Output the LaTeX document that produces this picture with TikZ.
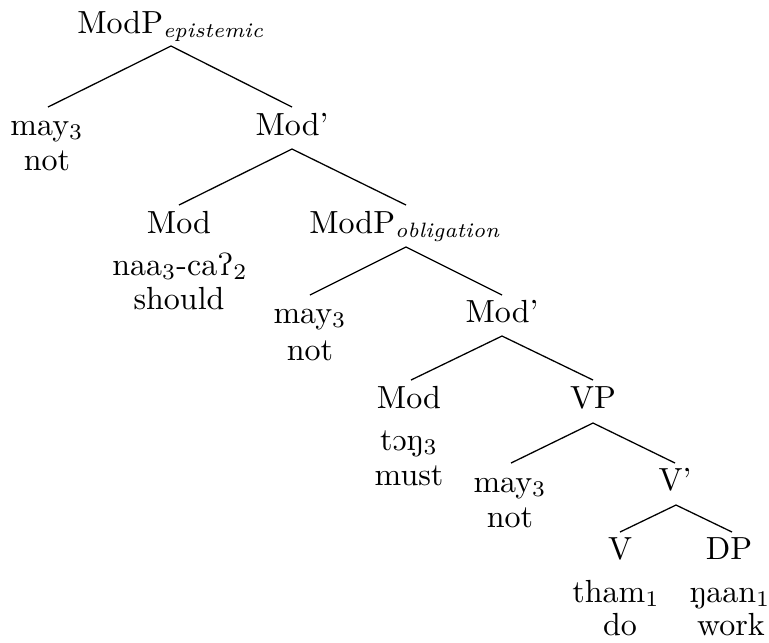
\documentclass[tikz,border=0pt]{standalone}
\usepackage{amsmath}
\usepackage{tipa}
\usetikzlibrary{calc}
\newcommand{\subit}[1]{$_{\text{\fontsize{6.5}{7.5}\selectfont\itshape #1}}$}
\begin{document}
\begin{tikzpicture}[x=0.3125pt,y=-0.3125pt,
  lab/.style={anchor=base,inner sep=0pt,font=\fontsize{10}{11}\selectfont},
  edge/.style={line width=0.4pt}]
\useasboundingbox (0,0) rectangle (769,642);
% level 0
\node[lab] (epi) at (171,33) {ModP\subit{epistemic}};
% level 1
\node[lab] (a1) at (47,135) {may$_3$};
\node[lab] (a2) at (47,170) {not};
\node[lab] (b) at (292,135) {Mod'};
% level 2
\node[lab] (c1) at (179,233) {Mod};
\node[lab] (c2) at (180,275) {naa$_3$-ca\textipa{P}$_2$};
\node[lab] (c3) at (179,309) {should};
\node[lab] (d) at (405,233) {ModP\subit{obligation}};
% level 3
\node[lab] (e1) at (310,323) {may$_3$};
\node[lab] (e2) at (310,360) {not};
\node[lab] (f) at (502,322) {Mod'};
% level 4
\node[lab] (g1) at (409,408) {Mod};
\node[lab] (g2) at (409,450) {\textipa{tON}$_3$};
\node[lab] (g3) at (409,485) {must};
\node[lab] (h) at (593,408) {VP};
% level 5
\node[lab] (i1) at (510,492) {may$_3$};
\node[lab] (i2) at (510,527) {not};
\node[lab] (j) at (675,490) {V'};
% level 6
\node[lab] (k1) at (620,559) {V};
\node[lab] (k2) at (616,602) {tham$_1$};
\node[lab] (k3) at (620,635) {do};
\node[lab] (l1) at (729,559) {DP};
\node[lab] (l2) at (730,602) {\textipa{N}aan$_1$};
\node[lab] (l3) at (731,635) {work};
% edges
\draw[edge] ($(a1.base)+(1,-28)$) -- ($(epi.base)+(0,13)$) -- ($(b.base)+(0,-28)$);
\draw[edge] ($(c1.base)+(0,-28)$) -- ($(b.base)+(0,14)$) -- ($(d.base)+(1,-28)$);
\draw[edge] ($(e1.base)+(0,-28)$) -- ($(d.base)+(1,14)$) -- ($(f.base)+(0,-27)$);
\draw[edge] ($(g1.base)+(2,-28)$) -- ($(f.base)+(0,14)$) -- ($(h.base)+(0,-28)$);
\draw[edge] ($(i1.base)+(1,-29)$) -- ($(h.base)+(0,15)$) -- ($(j.base)+(0,-27)$);
\draw[edge] ($(k1.base)+(0,-27)$) -- ($(j.base)+(1,15)$) -- ($(l1.base)+(3,-27)$);
\end{tikzpicture}
\end{document}
